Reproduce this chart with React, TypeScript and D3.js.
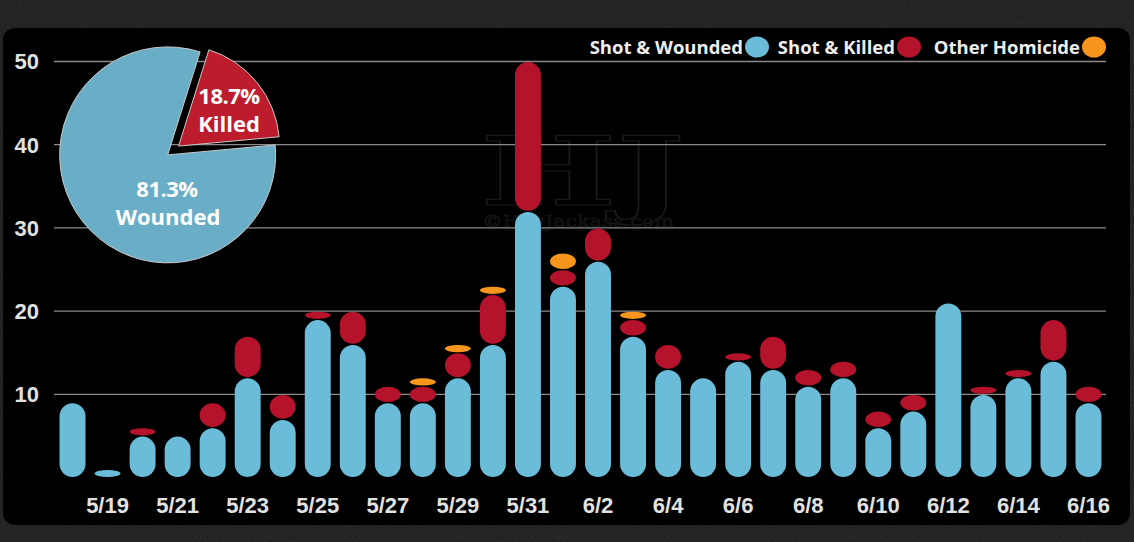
import React from "react";
import * as d3 from "d3";

const dates = ["5/18","5/19","5/20","5/21","5/22","5/23","5/24","5/25","5/26","5/27","5/28","5/29","5/30","5/31","6/1","6/2","6/3","6/4","6/5","6/6","6/7","6/8","6/9","6/10","6/11","6/12","6/13","6/14","6/15","6/16"];
const wounded = [9,1,5,5,6,12,7,19,16,9,9,12,16,32,23,26,17,13,12,14,13,11,12,6,8,21,10,12,14,9];
const killed = [0,0,1,0,3,5,3,1,4,2,2,3,6,18,2,4,2,3,0,1,4,2,2,2,2,0,1,1,5,2];
const other = [0,0,0,0,0,0,0,0,0,0,1,1,1,0,2,0,1,0,0,0,0,0,0,0,0,0,0,0,0,0];
const yTicks = [10, 20, 30, 40, 50];
const seriesNames = ["Shot & Wounded", "Shot & Killed", "Other Homicide"];

const W = 1134, H = 542;
const COLORS = ["#6bbcd9", "#b5132b", "#f7961d"];
const PIE_COLORS = { wounded: "#69adc7", killed: "#bd1c2d" };

export default function App() {
  const x = d3.scaleBand<string>().domain(dates).range([55, 1106]).paddingInner(0.26).paddingOuter(0.13);
  const y = d3.scaleLinear().domain([0, 50]).range([477.6, 61.5]);
  const bw = x.bandwidth();

  const segs: { key: string; x: number; y0: number; y1: number; c: string }[] = [];
  dates.forEach((d, i) => {
    const vals = [wounded[i], killed[i], other[i]];
    let base = 0;
    vals.forEach((v, k) => {
      if (v > 0) {
        segs.push({ key: d + k, x: x(d)!, y0: y(base), y1: y(base + v), c: COLORS[k] });
        base += v;
      }
    });
  });

  const totalW = d3.sum(wounded);
  const totalK = d3.sum(killed) + d3.sum(other);
  const pieData = [
    { name: "Killed", value: totalK, color: PIE_COLORS.killed, r: 101, off: 11 },
    { name: "Wounded", value: totalW, color: PIE_COLORS.wounded, r: 108, off: 3 },
  ];
  const a0 = (17.5 * Math.PI) / 180;
  const arcs = d3.pie<any>().sort(null).value((d) => d.value).startAngle(a0).endAngle(a0 + 2 * Math.PI)(pieData);
  const pc = { x: 170, y: 153 };
  const fmt = d3.format(".1%");
  const total = totalW + totalK;

  const legendCx = [757, 909, 1094];

  return (
    <svg width={W} height={H} style={{ position: "absolute", left: 0, top: 0, display: "block" }}>
      <defs>
        <filter id="noise">
          <feTurbulence type="fractalNoise" baseFrequency="0.9" numOctaves="2" result="n" />
          <feColorMatrix type="saturate" values="0" />
          <feComponentTransfer>
            <feFuncA type="linear" slope="0.12" />
          </feComponentTransfer>
        </filter>
      </defs>
      <rect width={W} height={H} fill="#1b1b1b" />
      <rect width={W} height={H} filter="url(#noise)" />
      <rect x={3} y={28} width={1127} height={497} rx={12} fill="#000" />

      {/* watermark */}
      <g opacity={0.45}>
        <text x={480} y={205} textLength={205} lengthAdjust="spacingAndGlyphs" fontFamily="DejaVu Serif" fontWeight="bold" fontSize={96} fill="none" stroke="#3a3a3a" strokeWidth={1.2}>HJ</text>
        <text x={482} y={227} textLength={192} lengthAdjust="spacingAndGlyphs" fontFamily="DejaVu Serif" fontSize={17} fill="#1e1e1e" stroke="#333" strokeWidth={0.6}>©HeyJackass.com</text>
      </g>

      {/* gridlines */}
      {yTicks.map((t) => (
        <g key={t}>
          <line x1={54} x2={1106} y1={y(t)} y2={y(t)} stroke="#8a8a8a" strokeWidth={1.3} />
          <text x={39} y={y(t)} dy="0.36em" textAnchor="end" fontFamily="Liberation Sans, Arial, sans-serif" fontWeight="bold" fontSize={22} fill="#e2e2e2">{t}</text>
        </g>
      ))}

      {/* bars */}
      {segs.map((s) => {
        const h = s.y0 - s.y1;
        return (
          <rect key={s.key} x={s.x} y={s.y1 + 0.6} width={bw} height={Math.max(0, h - 1.2)} rx={bw / 2} ry={Math.min(bw / 2, (h - 1.2) / 2)} fill={s.c} />
        );
      })}

      {/* x labels */}
      {dates.map((d, i) => (i % 2 === 1 ? (
        <text key={d} x={x(d)! + bw / 2} y={513} textAnchor="middle" fontFamily="Liberation Sans, Arial, sans-serif" fontWeight="bold" fontSize={22} fill="#e2e2e2">{d}</text>
      ) : null))}

      {/* legend */}
      {seriesNames.map((n, i) => (
        <g key={n}>
          <text x={legendCx[i] - 14} y={54} textAnchor="end" fontFamily="Open Sans, sans-serif" fontWeight="bold" fontSize={18.5} fill="#eeeeee">{n}</text>
          <ellipse cx={legendCx[i]} cy={47} rx={12} ry={10.5} fill={COLORS[i]} />
        </g>
      ))}

      {/* pie */}
      {arcs.map((a) => {
        const d: any = a.data;
        const mid = (a.startAngle + a.endAngle) / 2;
        const cx = pc.x + d.off * Math.sin(mid);
        const cy = pc.y - d.off * Math.cos(mid);
        const path = d3.arc<any>().innerRadius(0).outerRadius(d.r)(a as any) as string;
        return (
          <g key={d.name} transform={`translate(${cx},${cy})`}>
            <path d={path} fill={d.color} stroke="#c8c8c8" strokeWidth={1} />
          </g>
        );
      })}
      {(() => {
        const k = pieData[0], w = pieData[1];
        const ts = { fontFamily: "Open Sans, sans-serif", fontWeight: 700, fontSize: 22, fill: "#fff", textAnchor: "middle" as const };
        return (
          <g>
            <text x={229} y={104} {...ts} letterSpacing={-0.5}>{fmt(k.value / total)}</text>
            <text x={229} y={132} {...ts}>{k.name}</text>
            <text x={167} y={197} {...ts} letterSpacing={-0.5}>{fmt(w.value / total)}</text>
            <text x={168} y={225} {...ts}>{w.name}</text>
          </g>
        );
      })()}
    </svg>
  );
}
